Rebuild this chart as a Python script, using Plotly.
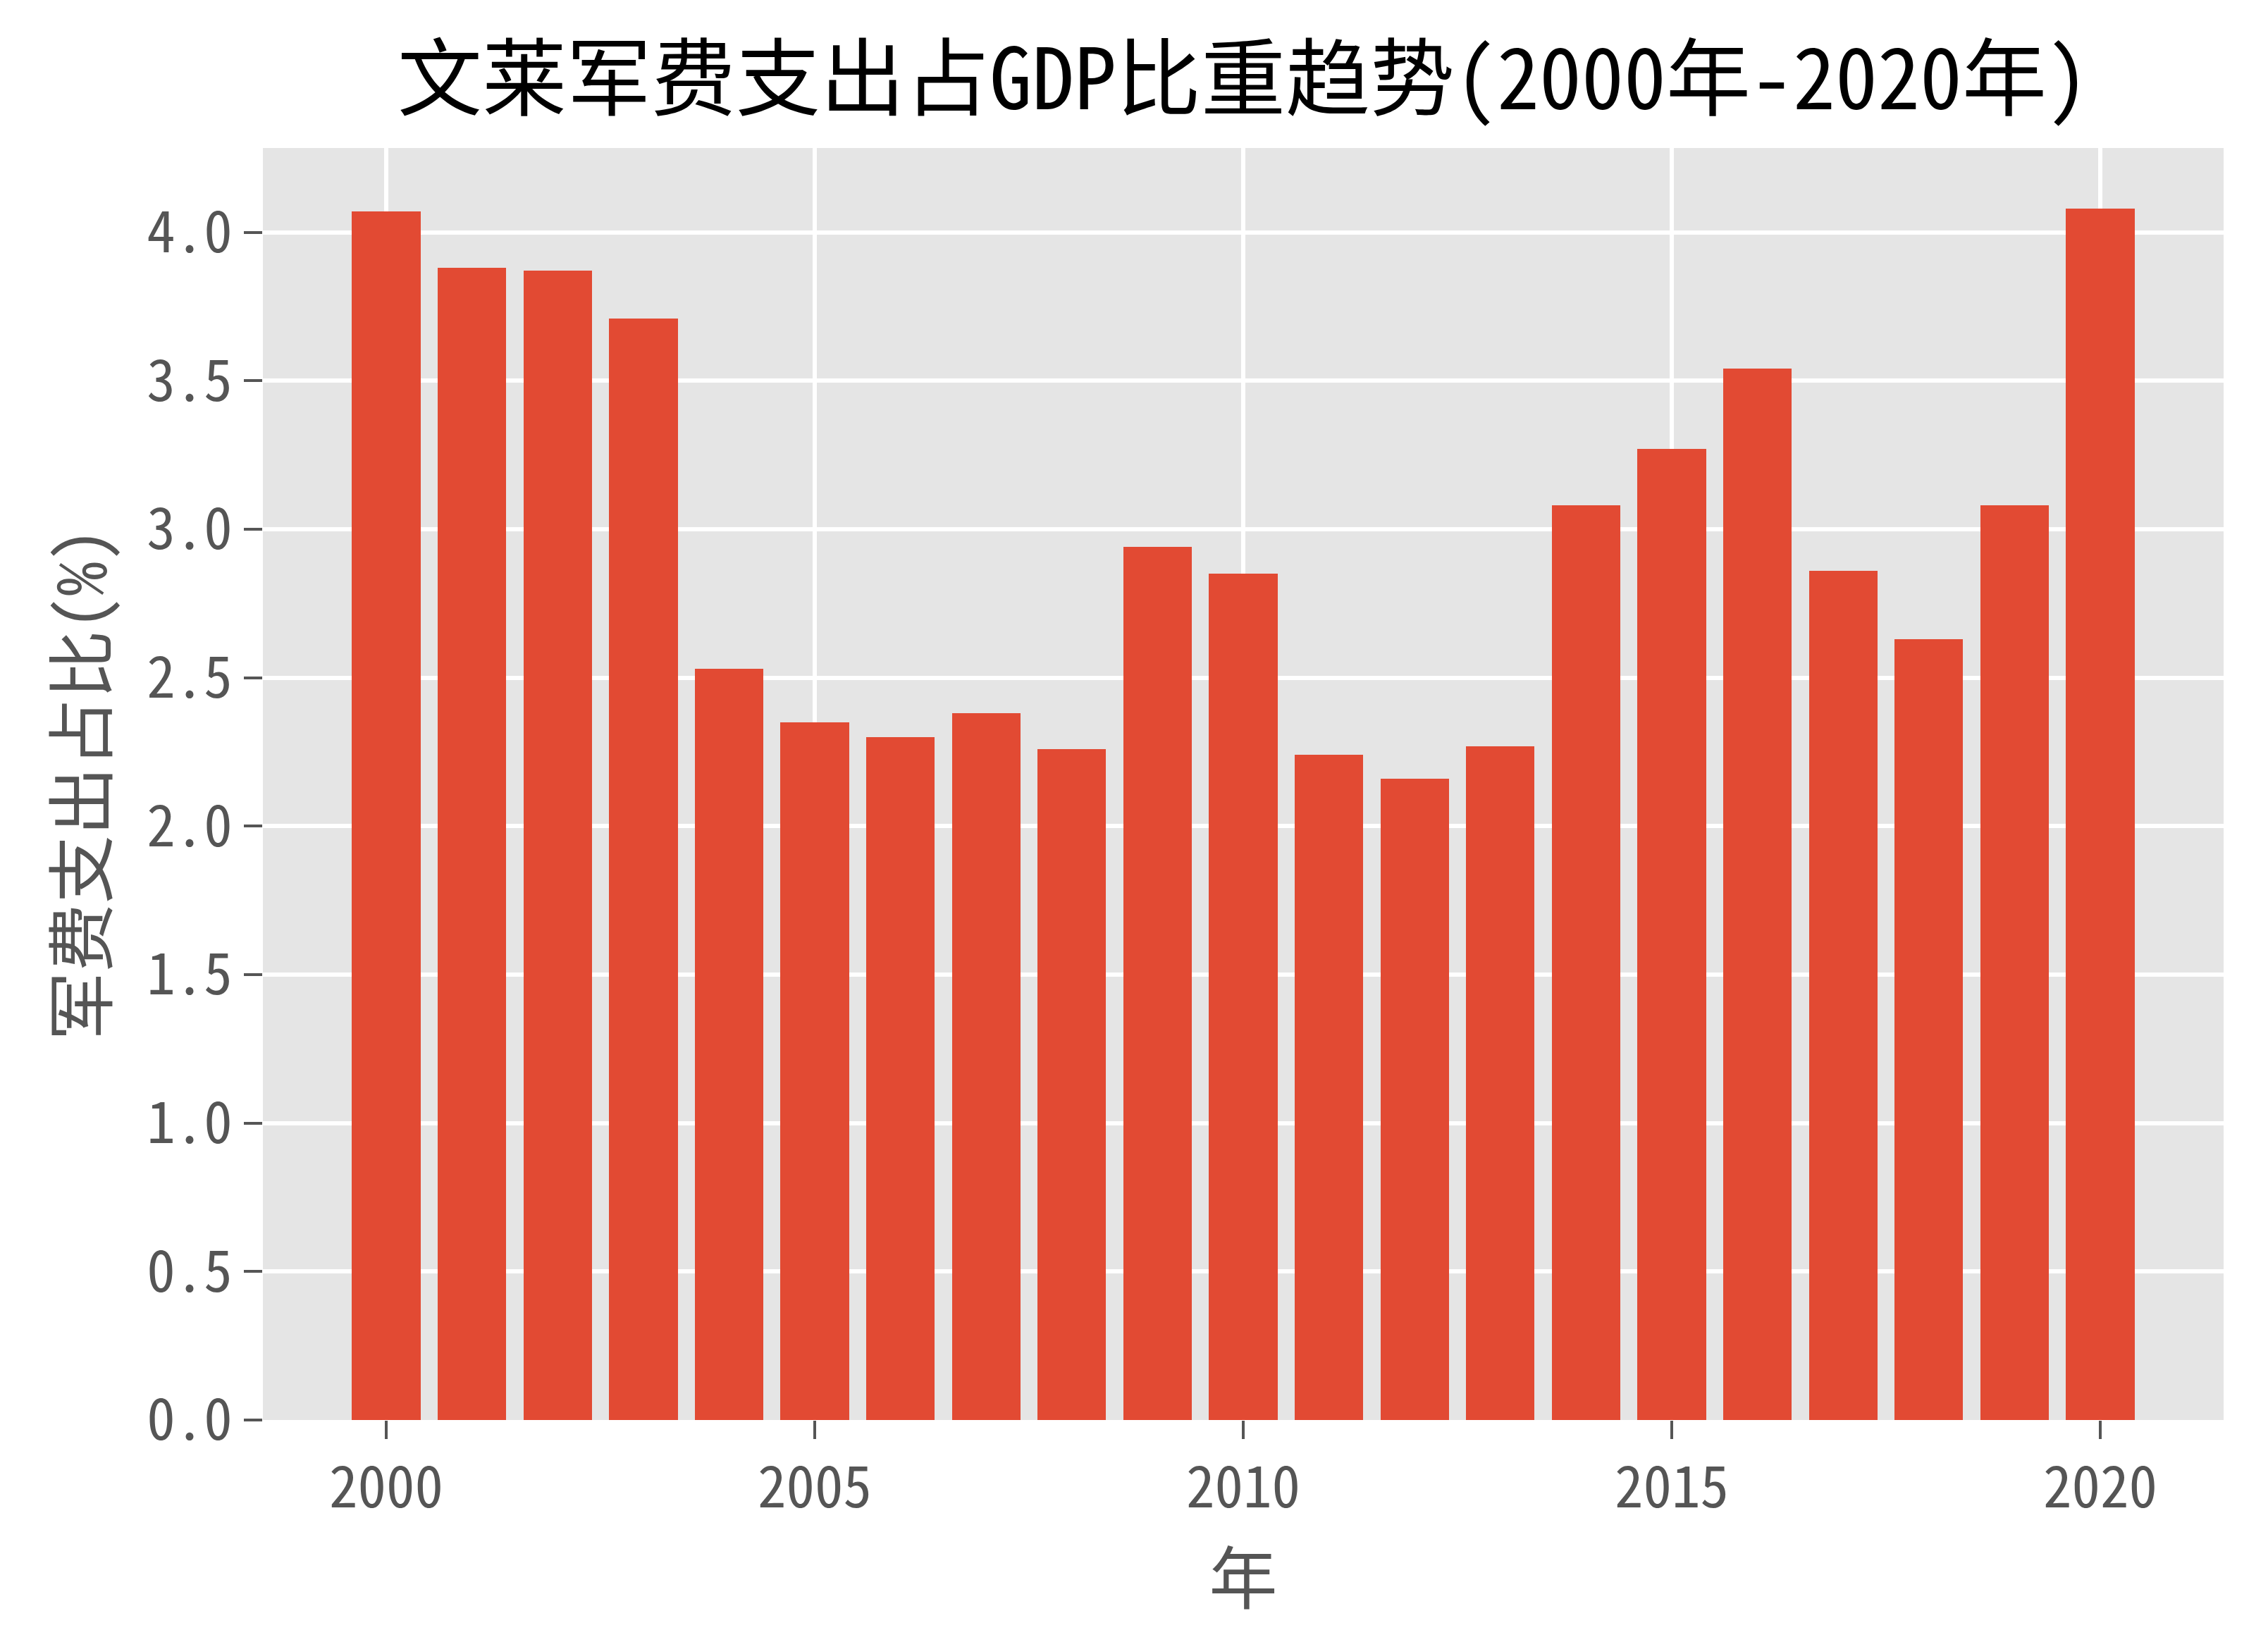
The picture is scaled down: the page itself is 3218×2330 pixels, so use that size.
import plotly.graph_objects as go

years = list(range(2000, 2021))
values = [4.07, 3.88, 3.87, 3.71, 2.53, 2.35, 2.30, 2.38, 2.26, 2.94, 2.85,
          2.24, 2.16, 2.27, 3.08, 3.27, 3.54, 2.86, 2.63, 3.08, 4.08]
title_text = "文莱军费支出占GDP比重趋势(2000年-2020年)"
x_label = "年"
y_label = "军费支出占比(%)"

FONT = "Noto Sans Mono CJK SC, Noto Sans CJK SC, sans-serif"
W, H = 3218, 2330
L, R, T, B = 373, 63, 210, 315

fig = go.Figure(go.Bar(x=years, y=values, width=0.8, marker=dict(color="#E24A33", line=dict(width=0))))

fig.update_layout(
    width=W, height=H,
    margin=dict(l=L, r=R, t=T, b=B, autoexpand=False),
    paper_bgcolor="white", plot_bgcolor="#E5E5E5",
    font=dict(family=FONT, color="#555555"),
    title=dict(text=title_text, x=(L + (W - R - L) / 2) / W, xanchor="center", xref="container",
               y=1 - 113 / H, yanchor="middle", yref="container",
               font=dict(family=FONT, size=120, color="black")),
    showlegend=False,
    bargap=0,
)
fig.update_xaxes(
    range=[1998.56, 2021.44], tickmode="linear", tick0=2000, dtick=5,
    showgrid=True, gridcolor="white", gridwidth=5.5, zeroline=False,
    ticks="outside", ticklen=26, tickwidth=4, tickcolor="#555555",
    tickfont=dict(size=81, color="#555555", family=FONT),
    title=dict(text=x_label, font=dict(size=97, color="#555555", family=FONT), standoff=12),
    showline=False,
)
fig.update_yaxes(
    range=[0, 4.284], tickmode="linear", tick0=0, dtick=0.5, tickformat=".1f",
    showgrid=True, gridcolor="white", gridwidth=5.5, zeroline=False,
    ticks="outside", ticklen=26, tickwidth=4, tickcolor="#555555",
    tickfont=dict(size=81, color="#555555", family=FONT),
    title=dict(text=y_label, font=dict(size=97, color="#555555", family=FONT), standoff=24),
    showline=False,
)

fig.write_html("out.html")
